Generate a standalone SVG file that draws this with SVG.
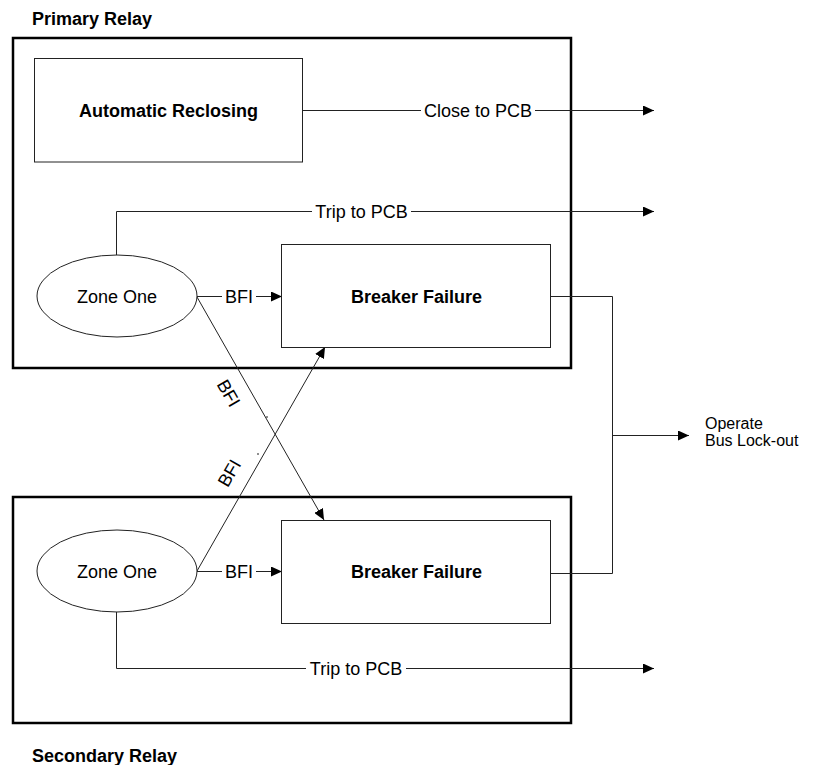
<svg xmlns="http://www.w3.org/2000/svg" width="814" height="765" viewBox="0 0 814 765">
<defs>
<marker id="arr" markerUnits="userSpaceOnUse" markerWidth="11" markerHeight="10" refX="11" refY="5" orient="auto">
<path d="M0,0 L11,5 L0,10 z" fill="#000"/>
</marker>
<style>
.outer{fill:none;stroke:#000;stroke-width:2.5}
.box{fill:#fff;stroke:#222;stroke-width:1}
.ell{fill:#fff;stroke:#222;stroke-width:1}
.ln{fill:none;stroke:#222;stroke-width:1}
.arw{fill:none;stroke:#222;stroke-width:1;marker-end:url(#arr)}
text{font-family:"Liberation Sans",Arial,sans-serif;font-size:18px;fill:#000}
.b{font-weight:bold}
.m{text-anchor:middle}
.s{font-size:16px}
</style>
</defs>
<rect width="814" height="765" fill="#fff"/>
<g id="primary-relay">
<rect class="outer" x="13" y="38" width="558" height="330"/>
<text class="b" x="32" y="25">Primary Relay</text>
</g>
<g id="secondary-relay">
<rect class="outer" x="13" y="497" width="558" height="226"/>
<text class="b" x="32" y="762">Secondary Relay</text>
</g>
<g id="connectors">
<path class="ln" d="M303 110.5 H421"/>
<path class="arw" d="M535 110.5 H654"/>
<text x="478" y="116.5" class="m">Close to PCB</text>
<path class="ln" d="M116.5 255 V211.5 H312"/>
<path class="arw" d="M411 211.5 H654"/>
<text x="361.5" y="217.5" class="m">Trip to PCB</text>
<path class="ln" d="M116.5 612 V668.5 H306"/>
<path class="arw" d="M406 668.5 H654"/>
<text x="356" y="674.5" class="m">Trip to PCB</text>
<path class="ln" d="M197 296.5 H222"/>
<path class="arw" d="M256 296.5 H282"/>
<text x="239" y="302.5" class="m">BFI</text>
<path class="ln" d="M197 571.5 H222"/>
<path class="arw" d="M256 571.5 H282"/>
<text x="239" y="577.5" class="m">BFI</text>
<path class="arw" d="M197 297 L324 520"/>
<path class="arw" d="M197 571 L325 347"/>
<text class="m" transform="translate(229,393) rotate(60)" y="6.5">BFI</text>
<text class="m" transform="translate(229,473) rotate(-60)" y="6.5">BFI</text>
<circle cx="267" cy="417" r="0.8" fill="#000"/>
<circle cx="258" cy="454" r="0.8" fill="#000"/>
<path class="ln" d="M551 296.5 H612.5 V573.5 H551"/>
<path class="arw" d="M612.5 435.5 H689"/>
<text class="s" x="705" y="429">Operate</text>
<text class="s" x="705" y="446">Bus Lock-out</text>
</g>
<g id="automatic-reclosing">
<rect class="box" x="34.5" y="58.5" width="268" height="103.5"/>
<text class="b m" x="168.5" y="116.5">Automatic Reclosing</text>
</g>
<g id="zone-one-primary">
<ellipse class="ell" cx="117" cy="296" rx="80" ry="41"/>
<text class="m" x="117" y="302.5">Zone One</text>
</g>
<g id="breaker-failure-primary">
<rect class="box" x="281.5" y="244.5" width="269" height="103"/>
<text class="b m" x="416.5" y="302.5">Breaker Failure</text>
</g>
<g id="zone-one-secondary">
<ellipse class="ell" cx="117" cy="571" rx="80" ry="41"/>
<text class="m" x="117" y="577.5">Zone One</text>
</g>
<g id="breaker-failure-secondary">
<rect class="box" x="281.5" y="520.5" width="269" height="103"/>
<text class="b m" x="416.5" y="577.5">Breaker Failure</text>
</g>
</svg>
